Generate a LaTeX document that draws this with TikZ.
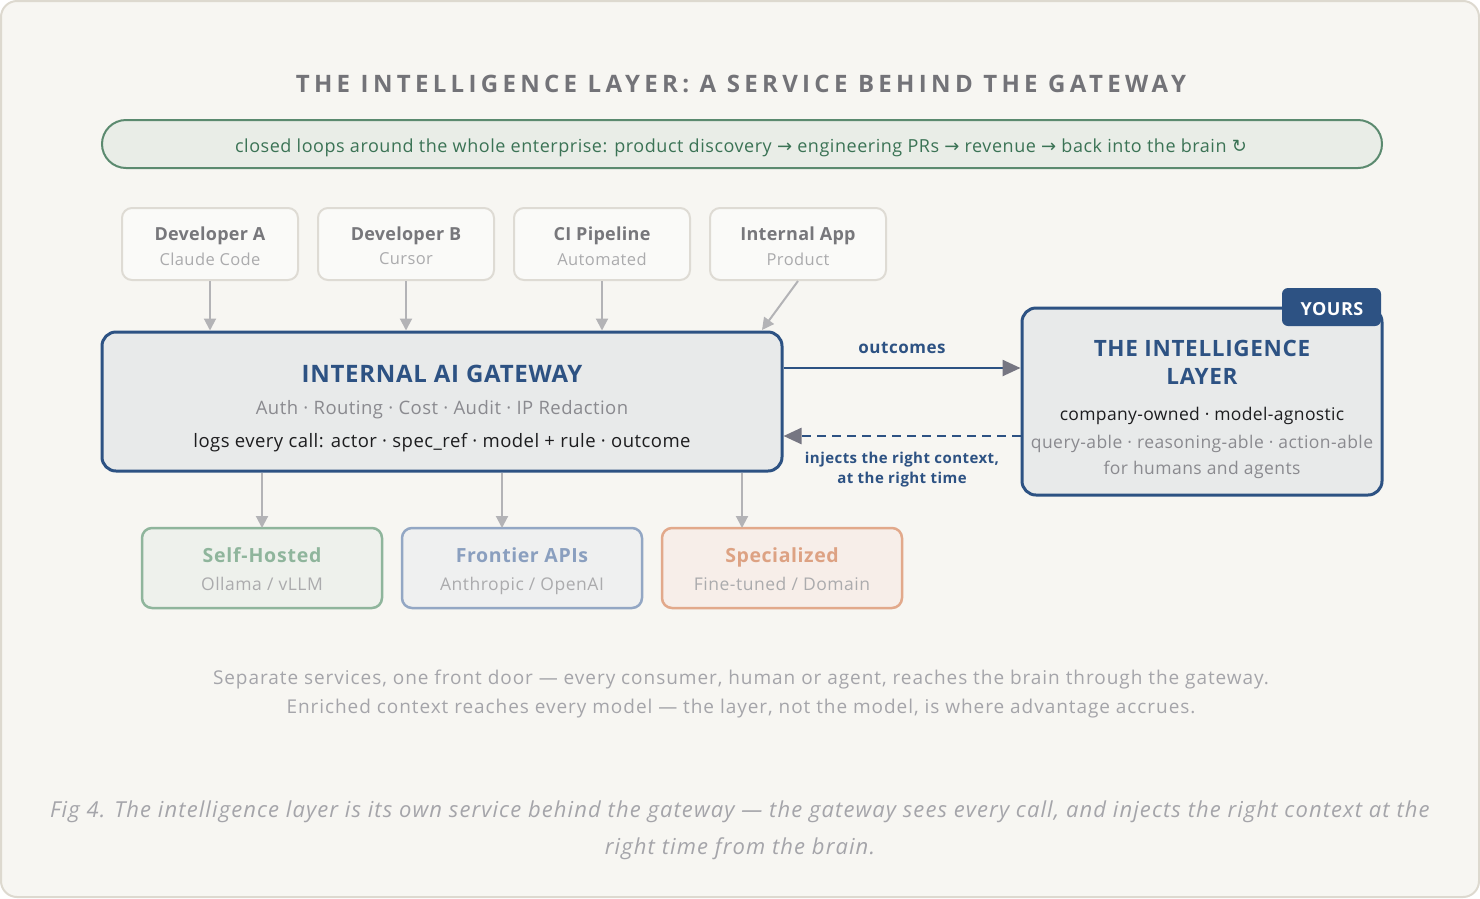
\documentclass[tikz,border=0pt]{standalone}
\usepackage{fontspec}
\setmainfont{Open Sans}
\newfontfamily\sym{DejaVu Sans}
\usetikzlibrary{arrows.meta,calc}
\definecolor{bg}{HTML}{F7F6F2}
\definecolor{frame}{HTML}{DDD9CF}
\definecolor{titlegray}{HTML}{737378}
\definecolor{gline}{HTML}{5B8A6F}
\definecolor{gfill}{HTML}{E9EDE7}
\definecolor{gtext}{HTML}{3B7355}
\definecolor{tfill}{HTML}{FAFAF8}
\definecolor{tline}{HTML}{DEDBD4}
\definecolor{ttitle}{HTML}{77777B}
\definecolor{tsub}{HTML}{ABABAD}
\definecolor{arr}{HTML}{B3B3B6}
\definecolor{navy}{HTML}{2D5283}
\definecolor{boxfill}{HTML}{E8EAEA}
\definecolor{headgray}{HTML}{767682}
\definecolor{midgray}{HTML}{8A8A8F}
\definecolor{ink}{HTML}{1D1D1F}
\definecolor{sgreen}{HTML}{8FB59C}
\definecolor{sgreenfill}{HTML}{EEF1EC}
\definecolor{sblue}{HTML}{93A7C4}
\definecolor{sbluetext}{HTML}{8A9FBF}
\definecolor{sbluefill}{HTML}{EFF0F0}
\definecolor{sorange}{HTML}{E2A98B}
\definecolor{sorangetext}{HTML}{DDA283}
\definecolor{sorangefill}{HTML}{F7EEE9}
\definecolor{foot}{HTML}{A5A5AA}
\newcommand{\fs}[2]{\fontsize{#1}{#1}\selectfont\addfontfeature{LetterSpace=#2}}
\begin{document}
\begin{tikzpicture}[x=1pt,y=-1pt,
  topbox/.style={draw=tline, fill=tfill, line width=2pt, rounded corners=10pt, minimum width=176pt, minimum height=72pt, inner sep=0pt},
  modelbox/.style={line width=2.5pt, rounded corners=10pt, minimum width=240pt, minimum height=80pt, inner sep=0pt},
  bigbox/.style={draw=navy, fill=boxfill, line width=3pt, rounded corners=14pt, inner sep=0pt},
  txt/.style={inner sep=0pt},
  ttl/.style={txt, font=\fs{18}{1.5}\bfseries, text=ttitle},
  sub/.style={txt, font=\fs{16.5}{2.5}, text=tsub},
  grayarrow/.style={draw=arr, line width=2pt, -{Triangle[length=12pt,width=12pt]}},
  navyarrow/.style={draw=navy, line width=2.5pt, -{Triangle[length=18pt,width=16pt,color=headgray]}}
]
\useasboundingbox (0,0) rectangle (1480,898);
\draw[fill=bg, draw=frame, line width=2pt, rounded corners=16pt] (1,1) rectangle (1479,897);

\node[txt, font=\fs{24}{18}\bfseries, text=titlegray] (title) at (741,84) {THE INTELLIGENCE LAYER: A SERVICE BEHIND THE GATEWAY};

\node[draw=gline, fill=gfill, line width=2pt, rounded corners=24pt, minimum width=1280pt, minimum height=48pt, inner sep=0pt] (banner) at (742,144) {};
\node[txt, font=\fs{18}{3}, text=gtext] (bannertext) at (741,148) {closed loops around the whole enterprise: product discovery {\sym →} engineering PRs {\sym →} revenue {\sym →} back into the brain {\sym ↻}};

% top boxes
\node[topbox] (devA) at (210,244) {};
\node[topbox] (devB) at (406,244) {};
\node[topbox] (ci) at (602,244) {};
\node[topbox] (app) at (798,244) {};
\node[ttl] (devAt) at (210,236) {Developer A};
\node[sub] (devAs) at (210,259) {Claude Code};
\node[ttl] (devBt) at (406,236) {Developer B};
\node[sub] (devBs) at (406,259) {Cursor};
\node[ttl] (cit) at (602,236) {CI Pipeline};
\node[sub] (cis) at (602,259) {Automated};
\node[ttl] (appt) at (798,236) {Internal App};
\node[sub] (apps) at (798,259) {Product};

% gateway
\node[bigbox, minimum width=680pt, minimum height=139pt] (gw) at (442,401.5) {};
\node[txt, font=\fs{24}{3}\bfseries, text=navy] (gwt) at (442,374) {INTERNAL AI GATEWAY};
\node[txt, font=\fs{18.5}{2.5}, text=midgray] (gws) at (442,410) {Auth · Routing · Cost · Audit · IP Redaction};
\node[txt, font=\fs{18.5}{2.5}, text=ink] (gwl) at (442,443) {logs every call: actor · spec\_ref · model + rule · outcome};

% intelligence layer
\node[bigbox, minimum width=360pt, minimum height=187pt] (il) at (1202,401.5) {};
\node[fill=navy, rounded corners=6pt, minimum width=99pt, minimum height=38pt, inner sep=0pt] (yours) at (1331.5,307) {};
\node[txt, font=\fs{18}{3}\bfseries, text=white] (yourst) at (1332,309) {YOURS};
\node[txt, font=\fs{22.5}{3}\bfseries, text=navy] (ilt1) at (1202,348) {THE INTELLIGENCE};
\node[txt, font=\fs{22.5}{3}\bfseries, text=navy] (ilt2) at (1202,376) {LAYER};
\node[txt, font=\fs{17.5}{2}, text=ink] (ila) at (1202,416) {company-owned · model-agnostic};
\node[txt, font=\fs{17.5}{2.5}, text=midgray] (ilb) at (1202,444) {query-able · reasoning-able · action-able};
\node[txt, font=\fs{17.5}{2.5}, text=midgray] (ilc) at (1202,470) {for humans and agents};

% arrows top
\draw[grayarrow] (devA.south) -- (devA.south |- gw.north);
\draw[grayarrow] (devB.south) -- (devB.south |- gw.north);
\draw[grayarrow] (ci.south) -- (ci.south |- gw.north);
\coordinate (appin) at (762,330);
\draw[grayarrow] (app.south) -- (appin);

% outcomes / injects
\draw[navyarrow] (gw.east |- 0,368) -- (il.west |- 0,368);
\node[txt, font=\fs{17}{3}\bfseries, text=navy] (outl) at (902,348) {outcomes};
\draw[navyarrow, dash pattern=on 9pt off 6pt] (il.west |- 0,436) -- (gw.east |- 0,436);
\node[txt, font=\fs{15}{3}\bfseries, text=navy] (inj1) at (902,460) {injects the right context,};
\node[txt, font=\fs{15}{3}\bfseries, text=navy] (inj2) at (902,480) {at the right time};

% bottom boxes
\node[modelbox, draw=sgreen, fill=sgreenfill] (self) at (262,568) {};
\node[modelbox, draw=sblue, fill=sbluefill] (front) at (522,568) {};
\node[modelbox, draw=sorange, fill=sorangefill] (spec) at (782,568) {};
\node[txt, font=\fs{19.5}{4}\bfseries, text=sgreen] (selft) at (262,555) {Self-Hosted};
\node[txt, font=\fs{17.5}{3}, text=tsub] (selfs) at (262,584) {Ollama / vLLM};
\node[txt, font=\fs{19.5}{3}\bfseries, text=sbluetext] (frontt) at (522,555) {Frontier APIs};
\node[txt, font=\fs{17.5}{3}, text=tsub] (fronts) at (522,586) {Anthropic / OpenAI};
\node[txt, font=\fs{19.5}{3}\bfseries, text=sorangetext] (spect) at (782,557) {Specialized};
\node[txt, font=\fs{17.5}{3}, text=tsub] (specs) at (782,584) {Fine-tuned / Domain};

\coordinate (selfin) at (262,528);
\coordinate (frontin) at (502,528);
\coordinate (specin) at (742,528);
\draw[grayarrow] (selfin |- gw.south) -- (selfin);
\draw[grayarrow] (frontin |- gw.south) -- (frontin);
\draw[grayarrow] (specin |- gw.south) -- (specin);

% footer
\node[txt, font=\fs{19}{5}, text=foot] (f1) at (741,679) {Separate services, one front door — every consumer, human or agent, reaches the brain through the gateway.};
\node[txt, font=\fs{19}{5}, text=foot] (f2) at (741,709) {Enriched context reaches every model — the layer, not the model, is where advantage accrues.};
\node[txt, font=\fs{22}{5}\itshape, text=foot] (c1) at (740,812) {Fig 4. The intelligence layer is its own service behind the gateway — the gateway sees every call, and injects the right context at the};
\node[txt, font=\fs{22}{5}\itshape, text=foot] (c2) at (740,849) {right time from the brain.};
\end{tikzpicture}
\end{document}
